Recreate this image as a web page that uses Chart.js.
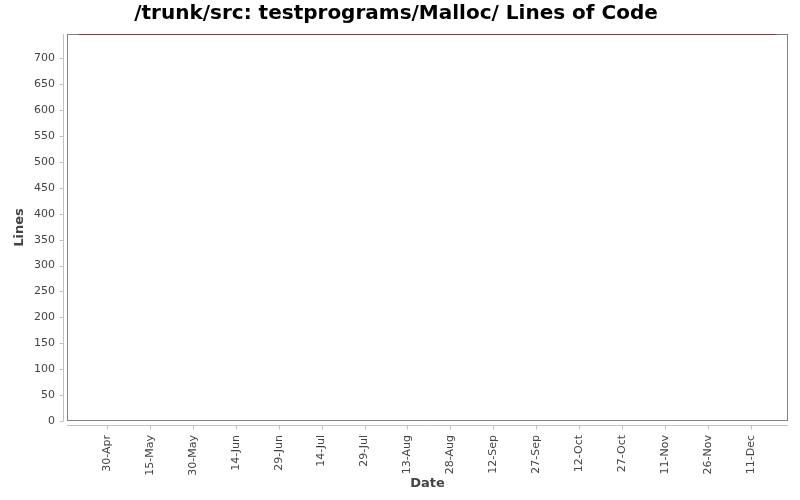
<!DOCTYPE html>
<html>
<head>
<meta charset="utf-8">
<script src="https://cdn.jsdelivr.net/npm/chart.js@4/dist/chart.umd.min.js"></script>
<style>
html,body{margin:0;padding:0;background:#fff;}
#wrap{width:800px;height:500px;position:relative;}
</style>
</head>
<body>
<div id="wrap"><canvas id="c" width="800" height="500"></canvas></div>
<script>
// ---- data ----
const chartTitle = '/trunk/src: testprograms/Malloc/ Lines of Code';
const lineDates = ['20-Apr', '20-Dec'];
const lineValues = [747, 747];
const xTickLabels = ['30-Apr','15-May','30-May','14-Jun','29-Jun','14-Jul','29-Jul','13-Aug','28-Aug','12-Sep','27-Sep','12-Oct','27-Oct','11-Nov','26-Nov','11-Dec'];
const yTickValues = [0,50,100,150,200,250,300,350,400,450,500,550,600,650,700];
const xRange = ['16-Apr', '24-Dec'];
const yMax = 747;

// day-of-year conversion (non-leap year)
const monthStart = {Jan:0,Feb:31,Mar:59,Apr:90,May:120,Jun:151,Jul:181,Aug:212,Sep:243,Oct:273,Nov:304,Dec:334};
function dayNum(s){ const [d,m] = s.split('-'); return monthStart[m] + parseInt(d,10); }

const points = lineDates.map((d,i)=>({x: dayNum(d), y: lineValues[i]}));
const xTickNums = xTickLabels.map(dayNum);
const labelByDay = {};
xTickLabels.forEach(l => { labelByDay[dayNum(l)] = l; });

const axisColor = '#c0c0c0';
const plotBorder = '#808080';

const framePlugin = {
  id: 'frame',
  beforeDatasetsDraw(chart){
    const {ctx, chartArea: a, scales} = chart;
    ctx.save();
    ctx.strokeStyle = plotBorder;
    ctx.lineWidth = 1;
    ctx.strokeRect(Math.round(a.left)+0.5, Math.round(a.top)+0.5, Math.round(a.right-a.left)-1, Math.round(a.bottom-a.top)-1);
    // y axis line & ticks
    ctx.strokeStyle = axisColor;
    const ax = Math.round(a.left) - 4 + 0.5;
    ctx.beginPath();
    ctx.moveTo(ax, a.top); ctx.lineTo(ax, a.bottom);
    yTickValues.forEach(v => {
      const y = Math.round(scales.y.getPixelForValue(v)) + 0.5;
      ctx.moveTo(ax - 4, y); ctx.lineTo(ax, y);
    });
    // x axis line & ticks
    const ay = Math.round(a.bottom) + 4 + 0.5;
    ctx.moveTo(a.left, ay); ctx.lineTo(a.right, ay);
    xTickNums.forEach(v => {
      const x = Math.round(scales.x.getPixelForValue(v)) + 0.5;
      ctx.moveTo(x, ay); ctx.lineTo(x, ay + 4);
    });
    ctx.stroke();
    ctx.restore();
  }
};

const tickFont = {family: '"DejaVu Sans", sans-serif', size: 11};
const titleFont = {family: '"DejaVu Sans", sans-serif', size: 13, weight: 'bold'};

new Chart(document.getElementById('c'), {
  type: 'line',
  data: {
    datasets: [{
      data: points,
      borderColor: '#8c2b30',
      borderWidth: 1.5,
      pointRadius: 0,
      fill: false,
      tension: 0
    }]
  },
  options: {
    responsive: false,
    animation: false,
    devicePixelRatio: 1,
    layout: {padding: {left: 4, right: 12, top: 0, bottom: 4}},
    plugins: {
      legend: {display: false},
      tooltip: {enabled: false},
      title: {
        display: true,
        text: chartTitle,
        color: '#000',
        font: {family: '"DejaVu Sans", sans-serif', size: 20, weight: 'bold'},
        padding: {top: 2, bottom: 8}
      }
    },
    scales: {
      x: {
        type: 'linear',
        min: dayNum(xRange[0]),
        max: dayNum(xRange[1]),
        afterBuildTicks: s => { s.ticks = xTickNums.map(v => ({value: v})); },
        afterFit: s => { s.height = 75; },
        grid: {drawOnChartArea: false, drawTicks: true, tickLength: 10, color: 'rgba(0,0,0,0)'},
        border: {display: false},
        ticks: {
          color: '#444',
          font: tickFont,
          padding: 4,
          minRotation: 90,
          maxRotation: 90,
          autoSkip: false,
          callback: v => labelByDay[v] || ''
        },
        title: {display: true, text: 'Date', color: '#444', font: titleFont, padding: {top: 0, bottom: 4.2}}
      },
      y: {
        type: 'linear',
        min: 0,
        max: yMax,
        afterBuildTicks: s => { s.ticks = yTickValues.map(v => ({value: v})); },
        afterFit: s => { s.width = 63; },
        grid: {drawOnChartArea: false, drawTicks: true, tickLength: 8, color: 'rgba(0,0,0,0)'},
        border: {display: false},
        ticks: {color: '#444', font: tickFont, padding: 4},
        title: {display: true, text: 'Lines', color: '#444', font: titleFont, padding: {top: 8, bottom: 0}}
      }
    }
  },
  plugins: [framePlugin]
});
</script>
</body>
</html>
